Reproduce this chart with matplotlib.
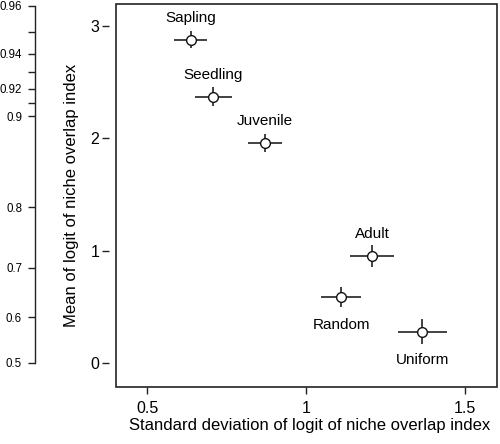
import numpy as np
import matplotlib
matplotlib.use('Agg')
import matplotlib.pyplot as plt
from matplotlib.patches import Rectangle

plt.rcParams['font.family'] = ['Liberation Sans', 'DejaVu Sans']

# values
stage = ['Sapling', 'Seedling', 'Juvenile', 'Adult', 'Random', 'Uniform']
sd = [0.638, 0.708, 0.871, 1.208, 1.110, 1.365]
mean = [2.876, 2.369, 1.959, 0.953, 0.588, 0.276]
sd_err = [0.052, 0.058, 0.053, 0.069, 0.064, 0.077]
mean_err = [0.076, 0.085, 0.080, 0.100, 0.090, 0.110]
label_side = ['above', 'above', 'above', 'above', 'below', 'below']

xticks = [0.5, 1, 1.5]
xticklabels = ['0.5', '1', '1.5']
yticks = [0, 1, 2, 3]
prob_major = [0.5, 0.6, 0.7, 0.8, 0.9, 0.92, 0.94, 0.96]
prob_minor = [0.91, 0.93, 0.95]

def logit(p):
    p = np.asarray(p, dtype=float)
    return np.log(p / (1 - p))

W, H = 500, 444
fig = plt.figure(figsize=(W / 100, H / 100), dpi=100)
ylim = (-0.215, 3.195)

# main panel
ax = fig.add_axes([116 / W, 1 - 387 / H, (497 - 116) / W, (387 - 4) / H])
ax.errorbar(sd, mean, xerr=sd_err, yerr=mean_err, fmt='none',
            ecolor='#222222', elinewidth=1.2, capsize=0, zorder=2)
ax.plot(sd, mean, 'o', ms=7, mfc='white', mec='#111111', mew=1.0, zorder=3)
for name, x, y, side in zip(stage, sd, mean, label_side):
    dy = 12.5 if side == 'above' else -23
    ax.annotate(name, (x, y), xytext=(0, dy), textcoords='offset points',
                ha='center', va='baseline', fontsize=11)

ax.set_xlim(0.4025, 1.6)
ax.set_ylim(*ylim)
ax.set_xticks(xticks)
ax.set_xticklabels(xticklabels)
ax.set_yticks(yticks)
for s in ax.spines.values():
    s.set_visible(False)
ax.spines['left'].set_visible(True)
ax.spines['left'].set_position(('outward', 5))
ax.spines['left'].set_edgecolor('none')
ax.add_patch(Rectangle((0, 0), 1, 1, transform=ax.transAxes, fill=False,
                       lw=1.2, ec='#222222', clip_on=False, zorder=5))
ax.tick_params(axis='x', length=5, width=1, color='#222222', pad=5, labelsize=11.5)
ax.tick_params(axis='y', length=5, width=1, color='#222222', pad=2, labelsize=11.5)

fig.text(310 / W, 1 - 425 / H, 'Standard deviation of logit of niche overlap index',
         ha='center', va='center', fontsize=12)
fig.text(72 / W, 1 - 195.5 / H, 'Mean of logit of niche overlap index',
         ha='center', va='center', rotation=90, fontsize=12)

# left axis in proportion units
ax2 = fig.add_axes([35 / W, 1 - 387 / H, 0.001, (387 - 4) / H])
ax2.set_ylim(*ylim)
for k in ['top', 'right', 'bottom']:
    ax2.spines[k].set_visible(False)
ax2.spines['left'].set_bounds(float(logit(0.5)), float(logit(0.96)))
ax2.spines['left'].set_linewidth(1.0)
ax2.spines['left'].set_color('#222222')
ax2.set_xticks([])
ax2.set_yticks(logit(prob_major))
ax2.set_yticklabels([f'{p:g}' for p in prob_major])
ax2.set_yticks(logit(prob_minor), minor=True)
ax2.tick_params(axis='y', which='both', length=5, width=1, color='#222222',
                pad=4.3, labelsize=8.3)
ax2.patch.set_visible(False)

fig.savefig('out.png', dpi=100)
